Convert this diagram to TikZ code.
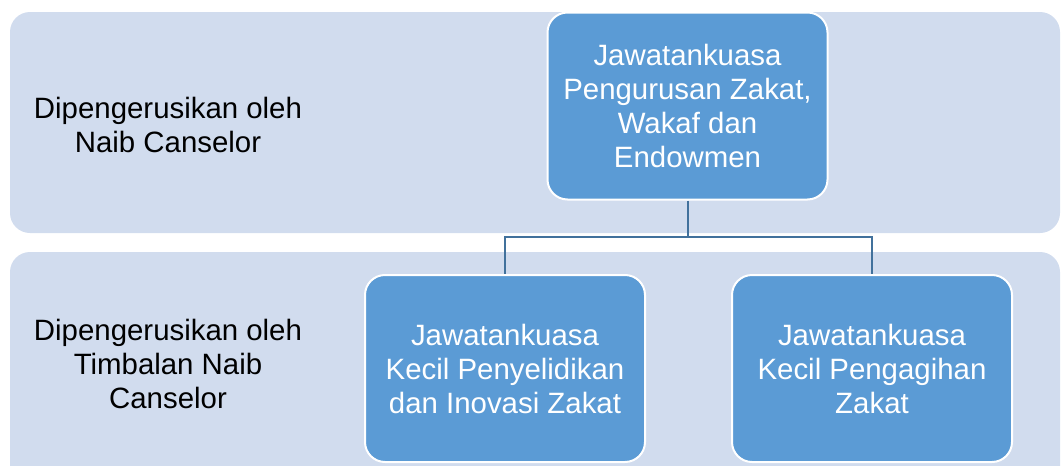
\documentclass[tikz,border=0pt]{standalone}
\usepackage{fontspec}
\setmainfont{Liberation Sans}
\usetikzlibrary{positioning}

\definecolor{bandblue}{RGB}{209,220,238}
\definecolor{boxblue}{RGB}{91,155,213}
\definecolor{lineblue}{RGB}{65,113,156}

\tikzset{
    band/.style={fill=bandblue, rounded corners=10pt},
    unit/.style={fill=boxblue, draw=white, line width=1pt, rounded corners=10pt,
        text=white, align=center, minimum width=140pt, minimum height=93.5pt,
        font=\fontsize{14.7}{17}\selectfont},
    chair/.style={align=center, text=black, font=\fontsize{14.7}{17}\selectfont},
    link/.style={draw=lineblue, line width=1pt}
}

\begin{document}
\begin{tikzpicture}[x=0.5pt,y=-0.5pt]

    \useasboundingbox (0,0) rectangle (1061,466);
    \clip (0,0) rectangle (1061,466);

    % Background bands for the two levels
    \foreach \top/\bot in {12/233, 252/500} {
        \path [band] (10,\top) rectangle (1060,\bot);
    }

    % Who chairs each level
    \node [chair] (chairtop) at (168,125) {Dipengerusikan oleh\\Naib Canselor};
    \node [chair] (chairbot) at (168,364) {Dipengerusikan oleh\\Timbalan Naib\\Canselor};

    % Committees
    \node [unit] (main) at (687.5,106) {Jawatankuasa\\Pengurusan Zakat,\\Wakaf dan\\Endowmen};
    \node [unit] (research) at (505,368.5) {Jawatankuasa\\Kecil Penyelidikan\\dan Inovasi Zakat};
    \node [unit] (collect) at (872,368.5) {Jawatankuasa\\Kecil Pengagihan\\Zakat};

    % Connectors
    \coordinate (split) at (687.5,237);
    \draw [link] (main.south) -- (split);
    \draw [link] (split) -| (research.north);
    \draw [link] (split) -| (collect.north);

\end{tikzpicture}
\end{document}
